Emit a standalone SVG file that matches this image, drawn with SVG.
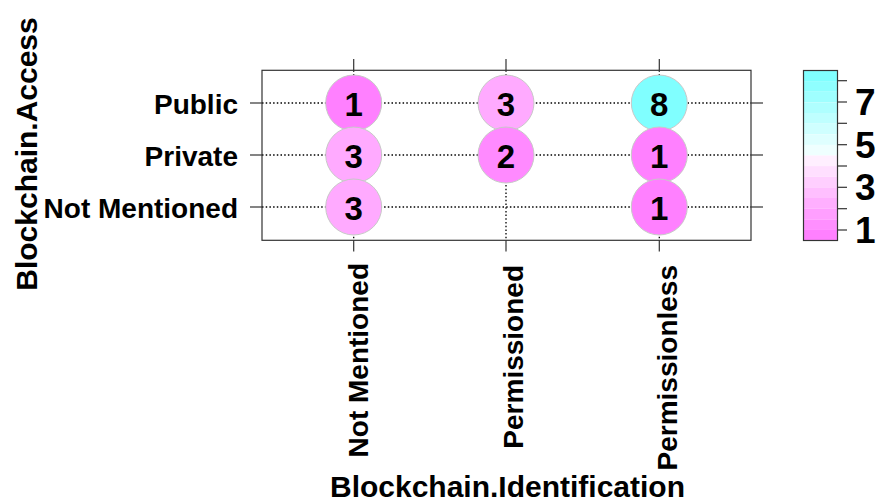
<svg xmlns="http://www.w3.org/2000/svg" width="879" height="504" viewBox="0 0 879 504">
<style>
text{font-family:"Liberation Sans",Arial,sans-serif;font-weight:bold;fill:#000}
.grid{stroke:#000;stroke-width:1.3;stroke-dasharray:1.5,2.2;fill:none}
.tick{stroke:#333;stroke-width:1.2}
.frame{fill:none;stroke:#333;stroke-width:1.2}
.bub{stroke:#c8c8c8;stroke-width:1}
.num{font-size:33px;text-anchor:middle}
.ylab{font-size:28px;text-anchor:end}
.xlab{font-size:28px;text-anchor:end}
.cb{font-size:37px}
</style>
<rect width="879" height="504" fill="#fff"/>
<g id="connectors">
<line class="grid" x1="262" y1="103" x2="751" y2="103"/>
<line class="grid" x1="262" y1="155" x2="751" y2="155"/>
<line class="grid" x1="262" y1="207" x2="751" y2="207"/>
<line class="grid" x1="353.7" y1="70.3" x2="353.7" y2="240.3"/>
<line class="grid" x1="506" y1="70.3" x2="506" y2="240.3"/>
<line class="grid" x1="659.3" y1="70.3" x2="659.3" y2="240.3"/>
</g>
<g id="axes">
<rect class="frame" x="262" y="70.3" width="489" height="170"/>
<line class="tick" x1="353.7" y1="59" x2="353.7" y2="70.3"/>
<line class="tick" x1="506" y1="59" x2="506" y2="70.3"/>
<line class="tick" x1="659.3" y1="59" x2="659.3" y2="70.3"/>
<line class="tick" x1="353.7" y1="240.3" x2="353.7" y2="251.5"/>
<line class="tick" x1="506" y1="240.3" x2="506" y2="251.5"/>
<line class="tick" x1="659.3" y1="240.3" x2="659.3" y2="251.5"/>
<line class="tick" x1="250" y1="103" x2="262" y2="103"/>
<line class="tick" x1="250" y1="155" x2="262" y2="155"/>
<line class="tick" x1="250" y1="207" x2="262" y2="207"/>
<line class="tick" x1="751" y1="103" x2="763" y2="103"/>
<line class="tick" x1="751" y1="155" x2="763" y2="155"/>
<line class="tick" x1="751" y1="207" x2="763" y2="207"/>
<text class="ylab" x="238" y="114">Public</text>
<text class="ylab" x="238" y="166">Private</text>
<text class="ylab" x="238" y="218">Not Mentioned</text>
<text class="xlab" transform="translate(368,263) rotate(-90)">Not Mentioned</text>
<text class="xlab" transform="translate(523,265) rotate(-90)">Permissioned</text>
<text class="xlab" transform="translate(677,265) rotate(-90)">Permissionless</text>
<text font-size="30" text-anchor="middle" transform="translate(37,154) rotate(-90)">Blockchain.Access</text>
<text font-size="30" text-anchor="middle" x="507.5" y="497">Blockchain.Identification</text>
</g>
<g id="node-public-notmentioned"><circle class="bub" cx="353.7" cy="103" r="28" fill="#FF80FF"/><text class="num" x="353.7" y="116">1</text></g>
<g id="node-public-permissioned"><circle class="bub" cx="506" cy="103" r="28" fill="#FFAAFF"/><text class="num" x="506" y="116">3</text></g>
<g id="node-public-permissionless"><circle class="bub" cx="659.3" cy="103" r="28" fill="#80FFFF"/><text class="num" x="659.3" y="116">8</text></g>
<g id="node-private-notmentioned"><circle class="bub" cx="353.7" cy="155" r="28" fill="#FFAAFF"/><text class="num" x="353.7" y="168">3</text></g>
<g id="node-private-permissioned"><circle class="bub" cx="506" cy="155" r="28" fill="#FF8AFF"/><text class="num" x="506" y="168">2</text></g>
<g id="node-private-permissionless"><circle class="bub" cx="659.3" cy="155" r="28" fill="#FF80FF"/><text class="num" x="659.3" y="168">1</text></g>
<g id="node-nm-notmentioned"><circle class="bub" cx="353.7" cy="207" r="28" fill="#FFAAFF"/><text class="num" x="353.7" y="220">3</text></g>
<g id="node-nm-permissionless"><circle class="bub" cx="659.3" cy="207" r="28" fill="#FF80FF"/><text class="num" x="659.3" y="220">1</text></g>
<g id="colorkey">
<rect x="803.5" y="70.5" width="34" height="10.63" fill="#80FFFF"/>
<rect x="803.5" y="81.1" width="34" height="10.63" fill="#8FFFFF"/>
<rect x="803.5" y="91.7" width="34" height="10.63" fill="#9FFFFF"/>
<rect x="803.5" y="102.4" width="34" height="10.63" fill="#AFFFFF"/>
<rect x="803.5" y="113" width="34" height="10.63" fill="#BFFFFF"/>
<rect x="803.5" y="123.6" width="34" height="10.63" fill="#CFFFFF"/>
<rect x="803.5" y="134.3" width="34" height="10.63" fill="#DFFFFF"/>
<rect x="803.5" y="144.9" width="34" height="10.63" fill="#EFFFFF"/>
<rect x="803.5" y="155.5" width="34" height="10.63" fill="#FFEFFF"/>
<rect x="803.5" y="166.1" width="34" height="10.63" fill="#FFDFFF"/>
<rect x="803.5" y="176.8" width="34" height="10.63" fill="#FFCFFF"/>
<rect x="803.5" y="187.4" width="34" height="10.63" fill="#FFBFFF"/>
<rect x="803.5" y="198" width="34" height="10.63" fill="#FFAFFF"/>
<rect x="803.5" y="208.6" width="34" height="10.63" fill="#FF9FFF"/>
<rect x="803.5" y="219.3" width="34" height="10.63" fill="#FF8FFF"/>
<rect x="803.5" y="229.9" width="34" height="10.6" fill="#FF80FF"/>
<rect class="frame" x="803.5" y="70.5" width="34" height="170"/>
<line class="tick" x1="837.5" y1="80.7" x2="847" y2="80.7"/>
<line class="tick" x1="837.5" y1="102" x2="847" y2="102"/>
<line class="tick" x1="837.5" y1="123.3" x2="847" y2="123.3"/>
<line class="tick" x1="837.5" y1="144.7" x2="847" y2="144.7"/>
<line class="tick" x1="837.5" y1="166" x2="847" y2="166"/>
<line class="tick" x1="837.5" y1="187.3" x2="847" y2="187.3"/>
<line class="tick" x1="837.5" y1="208.7" x2="847" y2="208.7"/>
<line class="tick" x1="837.5" y1="230" x2="847" y2="230"/>
<text class="cb" x="855" y="115">7</text>
<text class="cb" x="855" y="157.5">5</text>
<text class="cb" x="855" y="200">3</text>
<text class="cb" x="855" y="243">1</text>
</g>
</svg>
